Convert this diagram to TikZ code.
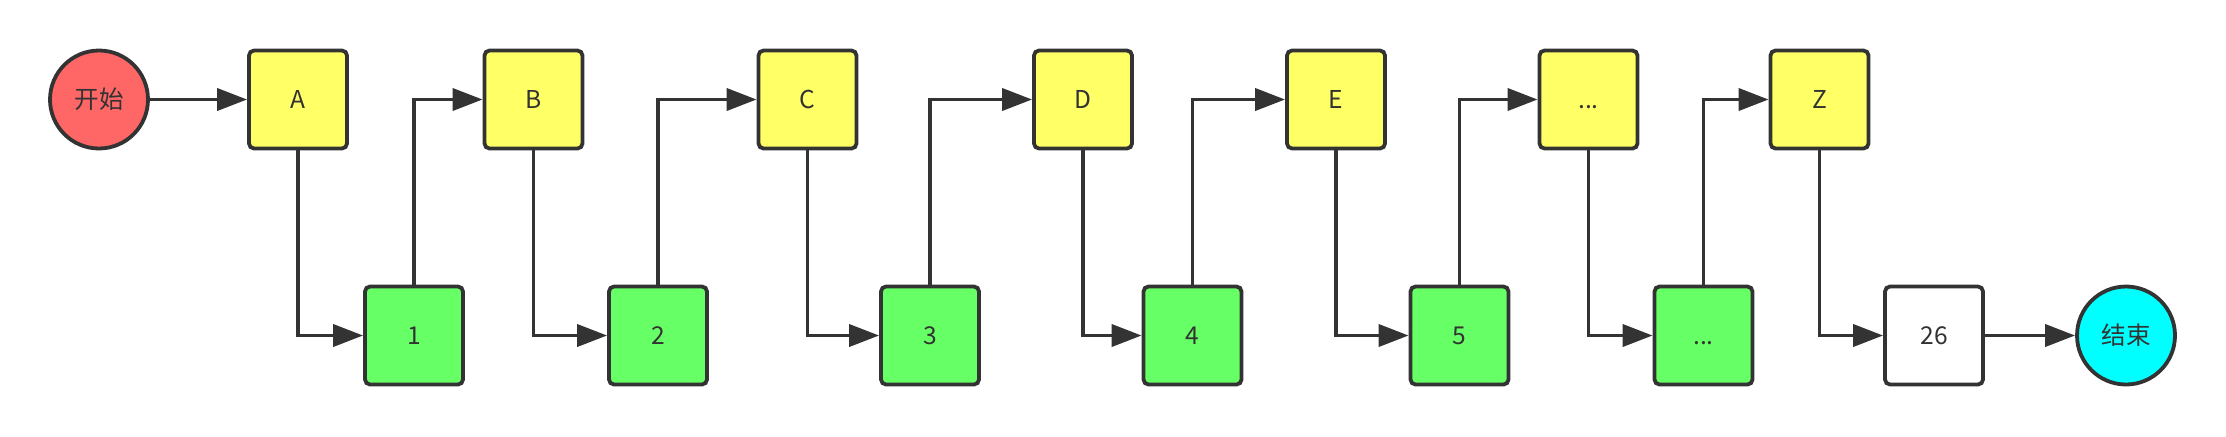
\documentclass[tikz,border=0pt]{standalone}
\usepackage{fontspec}
\setmainfont{Noto Sans CJK SC}
\usetikzlibrary{arrows.meta}
\definecolor{linec}{HTML}{333333}
\definecolor{redf}{HTML}{FF6666}
\definecolor{yelf}{HTML}{FFFF66}
\definecolor{grnf}{HTML}{66FF66}
\definecolor{cyanf}{HTML}{00FFFF}
\tikzset{
  box/.style={draw=linec, line width=1.9pt, rounded corners=2.5pt, minimum width=49pt, minimum height=49pt, inner sep=0pt, text=linec, font=\fontsize{12.3pt}{14pt}\selectfont},
  ybox/.style={box, fill=yelf},
  gbox/.style={box, fill=grnf},
  wbox/.style={box, fill=white},
  term/.style={circle, draw=linec, line width=1.9pt, minimum size=49pt, inner sep=0pt, text=linec, font=\fontsize{12.3pt}{14pt}\selectfont},
  arr/.style={draw=linec, line width=1.9pt, -{Triangle[length=15pt,width=11pt]}}
}
\begin{document}
\begin{tikzpicture}[x=0.5pt, y=-0.5pt]
\useasboundingbox (0,0) rectangle (2226,436);
\node[term, fill=redf] (start) at (99,99.5) {开始};
\node[ybox] (A) at (298,99.5) {A};
\node[ybox] (B) at (533.5,99.5) {B};
\node[ybox] (C) at (807.5,99.5) {C};
\node[ybox] (D) at (1083,99.5) {D};
\node[ybox] (E) at (1336,99.5) {E};
\node[ybox] (T6) at (1588.5,99.5) {\vphantom{A}...};
\node[ybox] (Z) at (1819.5,99.5) {Z};
\node[gbox] (n1) at (414,335.5) {1};
\node[gbox] (n2) at (658,335.5) {2};
\node[gbox] (n3) at (930,335.5) {3};
\node[gbox] (n4) at (1192.5,335.5) {4};
\node[gbox] (n5) at (1459.5,335.5) {5};
\node[gbox] (n6) at (1703.5,335.5) {\vphantom{A}...};
\node[wbox] (n26) at (1934,335.5) {26};
\node[term, fill=cyanf] (end) at (2126,335.5) {结束};
\draw[arr] (start) -- (A);
\draw[arr] (A.south) |- (n1.west);
\draw[arr] (n1.north) |- (B.west);
\draw[arr] (B.south) |- (n2.west);
\draw[arr] (n2.north) |- (C.west);
\draw[arr] (C.south) |- (n3.west);
\draw[arr] (n3.north) |- (D.west);
\draw[arr] (D.south) |- (n4.west);
\draw[arr] (n4.north) |- (E.west);
\draw[arr] (E.south) |- (n5.west);
\draw[arr] (n5.north) |- (T6.west);
\draw[arr] (T6.south) |- (n6.west);
\draw[arr] (n6.north) |- (Z.west);
\draw[arr] (Z.south) |- (n26.west);
\draw[arr] (n26) -- (end);
\end{tikzpicture}
\end{document}
